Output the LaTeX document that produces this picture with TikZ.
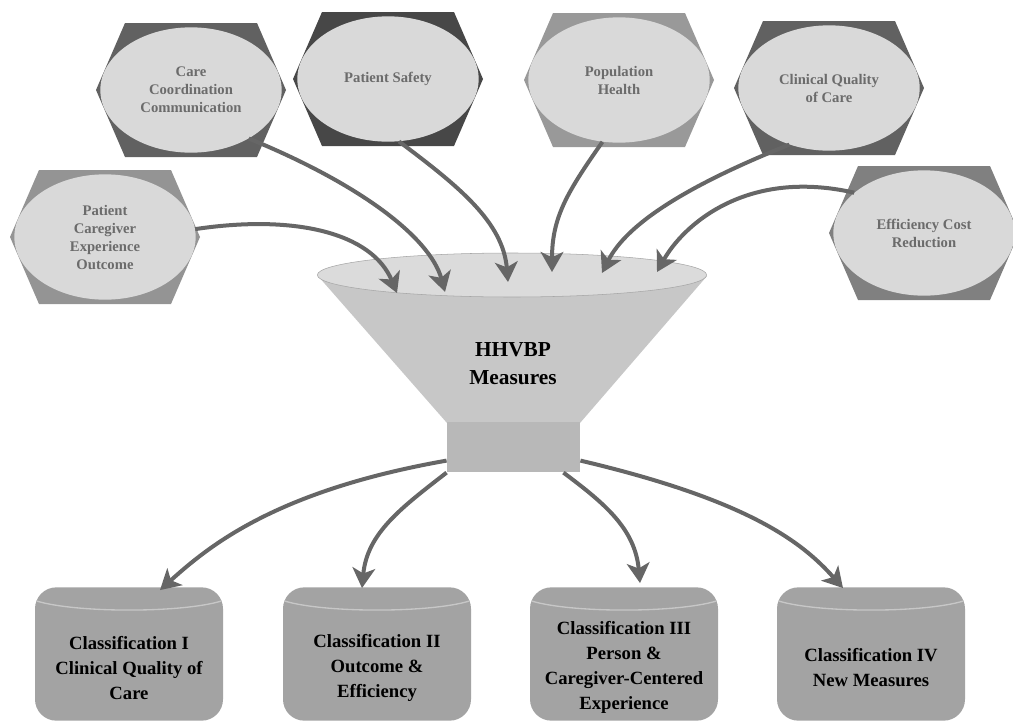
\documentclass[tikz,border=0pt]{standalone}
\usepackage{fontspec}
\setmainfont{Liberation Serif}
\usetikzlibrary{arrows.meta,calc,shapes.geometric}
\begin{document}
\begin{tikzpicture}[x=0.75pt,y=-0.75pt]
    \tikzset{bubble/.style={ellipse, fill=black!15, minimum width=136pt, minimum height=94pt, inner sep=0pt, align=center, font=\fontsize{11}{13.5}\selectfont\bfseries, text=black!58}}
    \tikzset{feed/.style={draw=black!60, line width=3pt, -{Stealth[length=15pt,width=17pt,inset=4pt]}}}
    \tikzset{tank/.style={rectangle, rounded corners=16pt, fill=black!36, minimum width=141pt, minimum height=100pt}}
    \tikzset{rim/.style={draw=black!22, line width=1pt}}
    \tikzset{tanklabel/.style={align=center, font=\fontsize{14}{18.75}\selectfont\bfseries}}
    \useasboundingbox (0,0) rectangle (1013,725);
    % hexagons behind the bubbles
    \foreach \cx/\cy/\shade in {191/90/62, 388/79/72, 619/80/40, 829/88/62, 924/233/50, 105/237/42}
        \fill[black!\shade, shift={(\cx,\cy)}] (-95,0) -- (-66,-67) -- (66,-67) -- (95,0) -- (66,67) -- (-66,67) -- cycle;
    \node[bubble] (care) at (191,90) {Care\\Coordination\\Communication};
    \node[bubble] (safety) at (388,79) {Patient Safety};
    \node[bubble] (pop) at (619,80) {Population\\Health};
    \node[bubble] (clinical) at (829,88) {Clinical Quality\\of Care};
    \node[bubble] (eff) at (924,233) {Efficiency Cost\\Reduction};
    \node[bubble] (pce) at (105,237) {Patient\\Caregiver\\Experience\\Outcome};
    % funnel
    \fill[black!22] (318,276) -- (447,423) -- (580,423) -- (707,276) -- cycle;
    \node[fill=black!28, minimum width=100pt, minimum height=38pt] (neck) at (513.5,447) {};
    \node[ellipse, fill=black!14, draw=black!35, minimum width=292pt, minimum height=33pt] (mouth) at (512,275) {};
    \node[font=\fontsize{16}{21}\selectfont\bfseries, align=center] (hhvbp) at (513,364) {HHVBP\\Measures};
    % into the funnel
    \draw[feed] (pce.5) .. controls +(100,-15) and +(-25,-60) .. ($(mouth.center)+(-115,18)$);
    \draw[feed] (care.-40) .. controls +(110,45) and +(-15,-55) .. ($(mouth.center)+(-67,17)$);
    \draw[feed] (safety.-80) .. controls +(60,45) and +(-5,-60) .. ($(mouth.center)+(-4,7)$);
    \draw[feed] (pop.-105) .. controls +(-35,50) and +(0,-55) .. ($(mouth.center)+(40,-3)$);
    \draw[feed] (clinical.-125) .. controls +(-100,40) and +(25,-50) .. ($(mouth.center)+(90,-2)$);
    \draw[feed] (eff.150) .. controls +(-110,-25) and +(25,-45) .. ($(mouth.center)+(145,-3)$);
    % classifications
    \node[tank] (cls1) at (129,654) {};
    \node[tank] (cls2) at (377,654) {};
    \node[tank] (cls3) at (624,654) {};
    \node[tank] (cls4) at (871,654) {};
    \draw[rim] ($(cls1.north west)+(2,14)$) .. controls +(40,12) and +(-40,12) .. ($(cls1.north east)+(-2,14)$);
    \draw[rim] ($(cls2.north west)+(2,14)$) .. controls +(40,12) and +(-40,12) .. ($(cls2.north east)+(-2,14)$);
    \draw[rim] ($(cls3.north west)+(2,14)$) .. controls +(40,12) and +(-40,12) .. ($(cls3.north east)+(-2,14)$);
    \draw[rim] ($(cls4.north west)+(2,14)$) .. controls +(40,12) and +(-40,12) .. ($(cls4.north east)+(-2,14)$);
    \node[tanklabel] at ($(cls1.center)+(0,14)$) {Classification I\\Clinical Quality of\\Care};
    \node[tanklabel] at ($(cls2.center)+(0,14)$) {Classification II\\Outcome \&\\Efficiency};
    \node[tanklabel] at ($(cls3.center)+(0,13)$) {Classification III\\Person \&\\Caregiver-Centered\\Experience};
    \node[tanklabel] at ($(cls4.center)+(0,14)$) {Classification IV\\New Measures};
    % out of the funnel
    \draw[feed] ($(neck.south west)+(0,-12)$) .. controls +(-170,30) and +(50,-45) .. ($(cls1.north)+(31,3)$);
    \draw[feed] (neck.south west) .. controls +(-45,35) and +(5,-55) .. ($(cls2.north)+(-15,1)$);
    \draw[feed] ($(neck.south east)+(-17,0)$) .. controls +(40,30) and +(-5,-55) .. ($(cls3.north)+(16,-4)$);
    \draw[feed] ($(neck.south east)+(0,-12)$) .. controls +(170,40) and +(-40,-45) .. ($(cls4.north)+(-28,1)$);
\end{tikzpicture}
\end{document}
